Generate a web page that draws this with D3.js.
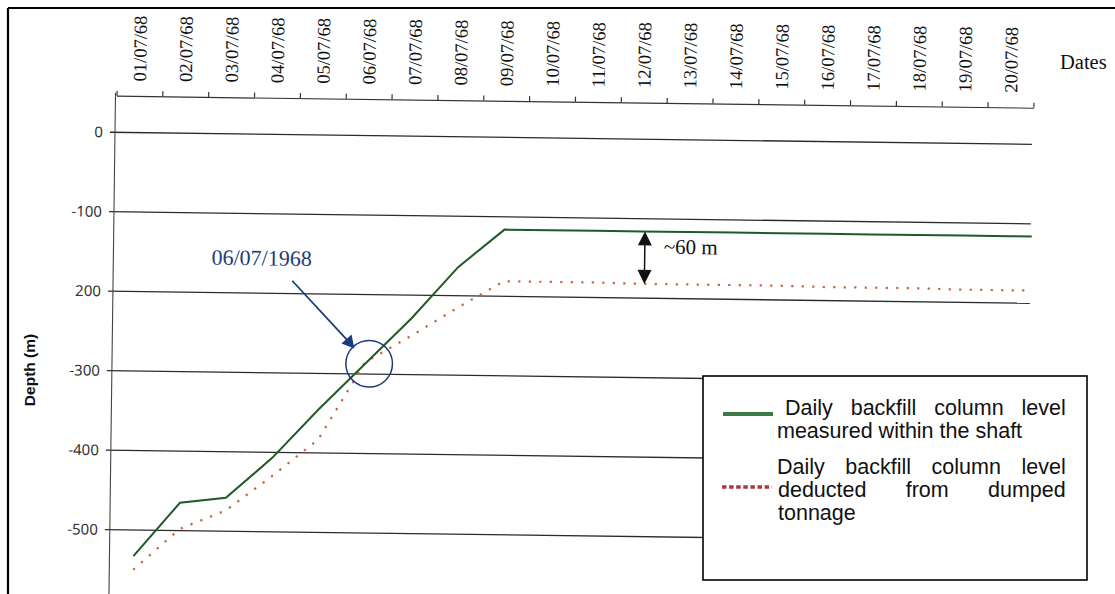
<!DOCTYPE html>
<html lang="en">
<head>
<meta charset="utf-8">
<script src="https://d3js.org/d3.v7.min.js"></script>
<title>Daily backfill column level</title>
<style>
  body { margin: 0; background: #fff; }
</style>
</head>
<body>
<script>

// data (depth in m)
var dates = ["01/07/68", "02/07/68", "03/07/68", "04/07/68", "05/07/68", "06/07/68", "07/07/68",
             "08/07/68", "09/07/68", "10/07/68", "11/07/68", "12/07/68", "13/07/68", "14/07/68",
             "15/07/68", "16/07/68", "17/07/68", "18/07/68", "19/07/68", "20/07/68"];
var measured = [-533, -465, -458, -407, -345, -287, -229, -164, -116, -116,
                -116, -116, -116, -116, -116, -116, -116, -116, -116, -116];
var deducted = [-550, -498, -474, -430, -383, -285, -251, -215, -181, -181,
                -181, -182, -182, -182, -182, -183, -183, -183, -184, -184];
var depthTicks = [0, -100, -200, -300, -400, -500];
var depthTickLabels = ["0", "-100", "200", "-300", "-400", "-500"];
var legendRows = [
  ["Daily backfill column level", "measured within the shaft"],
  ["Daily backfill column level", "deducted from dumped", "tonnage"]
];

var width = 1115, height = 594;

var svg = d3.select("body").append("svg")
  .attr("width", width)
  .attr("height", height);

// frame
svg.append("line").attr("x1", 8).attr("y1", 8).attr("x2", width).attr("y2", 8)
  .attr("stroke", "#000").attr("stroke-width", 2.2);
svg.append("line").attr("x1", 8).attr("y1", 8).attr("x2", 8).attr("y2", height)
  .attr("stroke", "#000").attr("stroke-width", 2.2);

// the scanned graph is a little tilted
var plot = svg.append("g").attr("transform", "rotate(0.75,115,132.3)");

var x = d3.scaleBand().domain(dates).range([116, 1033]);
var xTick = d3.scaleLinear().domain([0, dates.length]).range(x.range());
var y = d3.scaleLinear().domain([0, -500]).range([132.3, 529.7]);
var axisY = 95.7;
var cx = function(d) { return x(d) + x.bandwidth() / 2; };

// grid lines
plot.selectAll(".grid")
  .data(depthTicks)
  .enter().append("line")
  .attr("x1", 110)
  .attr("x2", 1032)
  .attr("y1", function(d) { return y(d); })
  .attr("y2", function(d) { return y(d); })
  .attr("stroke", "#2b2b2b")
  .attr("stroke-width", 1.3);

// depth axis
plot.append("line")
  .attr("x1", 115).attr("x2", 115)
  .attr("y1", axisY - 3).attr("y2", 615)
  .attr("stroke", "#444").attr("stroke-width", 1.1);

plot.selectAll(".ylab")
  .data(depthTicks)
  .enter().append("text")
  .attr("x", 103)
  .attr("y", function(d) { return y(d); })
  .attr("dy", "0.35em")
  .attr("text-anchor", "end")
  .style("font-family", "'Noto Sans', sans-serif")
  .style("font-size", "15px")
  .style("fill", "#333")
  .text(function(d, i) { return depthTickLabels[i]; });

// date axis
var xAxis = plot.append("g")
  .attr("transform", "translate(0," + axisY + ")")
  .call(d3.axisTop(xTick)
    .tickValues(d3.range(dates.length + 1))
    .tickFormat("")
    .tickSize(5)
    .tickSizeOuter(0));
xAxis.selectAll("path, line").attr("stroke", "#333").attr("stroke-width", 1.2);

plot.selectAll(".xlab")
  .data(dates)
  .enter().append("text")
  .attr("transform", function(d) { return "translate(" + cx(d) + ",81) rotate(-90)"; })
  .attr("dy", "0.35em")
  .style("font-family", "'Liberation Serif', serif")
  .style("font-size", "18.5px")
  .style("fill", "#111")
  .text(function(d) { return d; });

// series
function points(vals) {
  var p = vals.map(function(v, i) { return [cx(dates[i]), y(v)]; });
  p.push([x.range()[1], y(vals[vals.length - 1])]);
  return p;
}
var line = d3.line();

plot.append("path")
  .attr("d", line(points(deducted)))
  .attr("fill", "none")
  .attr("stroke", "#c4643c")
  .attr("stroke-width", 2.2)
  .attr("stroke-dasharray", "2.2,8.3");

plot.append("path")
  .attr("d", line(points(measured)))
  .attr("fill", "none")
  .attr("stroke", "#1f5a28")
  .attr("stroke-width", 2);

// ~60 m gap annotation
var gx = cx(dates[11]) + 3;
var gTop = y(measured[11]), gBot = y(deducted[11]);
plot.append("line")
  .attr("x1", gx).attr("x2", gx)
  .attr("y1", gTop + 10).attr("y2", gBot - 10)
  .attr("stroke", "#111").attr("stroke-width", 1.5);
plot.append("path")
  .attr("d", "M" + gx + "," + gTop + "l-7,14h14z")
  .attr("fill", "#111");
plot.append("path")
  .attr("d", "M" + gx + "," + gBot + "l-7,-14h14z")
  .attr("fill", "#111");
plot.append("text")
  .attr("x", gx + 19)
  .attr("y", gTop + 22)
  .style("font-family", "'Liberation Serif', serif")
  .style("font-size", "21px")
  .style("fill", "#111")
  .text("~60 m");

// circled crossing on 06/07
var ccx = cx(dates[5]) + 4, ccy = y(measured[5]);
var blue = "#1d3a80";
plot.append("circle")
  .attr("cx", ccx).attr("cy", ccy).attr("r", 23.3)
  .attr("fill", "none")
  .attr("stroke", blue)
  .attr("stroke-width", 1.5);
plot.append("line")
  .attr("x1", ccx - 78).attr("y1", ccy - 82)
  .attr("x2", ccx - 22).attr("y2", ccy - 23)
  .attr("stroke", blue).attr("stroke-width", 1.8);
plot.append("path")
  .attr("d", "M" + (ccx - 15) + "," + (ccy - 15) + "l-3,-14l-10,9z")
  .attr("fill", blue);
plot.append("text")
  .attr("x", ccx - 159)
  .attr("y", ccy - 97)
  .style("font-family", "'Liberation Serif', serif")
  .style("font-size", "22px")
  .style("fill", "#213c78")
  .text("06/07/1968");

// axis titles
svg.append("text")
  .attr("x", 1060)
  .attr("y", 69)
  .style("font-family", "'Liberation Serif', serif")
  .style("font-size", "20.5px")
  .style("fill", "#111")
  .text("Dates");

svg.append("text")
  .attr("transform", "translate(30,370) rotate(-90)")
  .attr("dy", "0.35em")
  .attr("text-anchor", "middle")
  .style("font-family", "'Liberation Sans', Arial, sans-serif")
  .style("font-weight", "bold")
  .style("font-size", "15.5px")
  .style("fill", "#111")
  .text("Depth (m)");

// legend
var legend = svg.append("g")
  .style("font-family", "'Liberation Sans', Arial, sans-serif")
  .style("font-size", "21.5px")
  .style("fill", "#111");

legend.append("rect")
  .attr("x", 703).attr("y", 376)
  .attr("width", 384).attr("height", 204)
  .attr("fill", "#fff")
  .attr("stroke", "#000")
  .attr("stroke-width", 1.6);

legend.append("line")
  .attr("x1", 723).attr("x2", 773)
  .attr("y1", 414).attr("y2", 414)
  .attr("stroke", "#3b7a45").attr("stroke-width", 4);
legend.append("line")
  .attr("x1", 722).attr("x2", 772)
  .attr("y1", 487).attr("y2", 487)
  .attr("stroke", "#a83a3a").attr("stroke-width", 3.5)
  .attr("stroke-dasharray", "4.5,2.6");

var textRight = 1065.7;
var rowLeft = [[785, 777], [777, 778, 778]];
var rowBase = [[415, 437.5], [474, 497, 519.5]];

// justified text: spread the words of every row but the last one
function writeRow(words, x0, yb, justify) {
  var t = legend.selectAll(null)
    .data(words)
    .enter().append("text")
    .attr("y", yb)
    .text(function(d) { return d; });
  var w = t.nodes().map(function(n) { return n.getComputedTextLength(); });
  var space = 6;
  if (justify && words.length > 1) {
    space = (textRight - x0 - d3.sum(w)) / (words.length - 1);
  }
  var pos = x0;
  t.attr("x", function(d, i) { var p = pos; pos += w[i] + space; return p; });
}

legendRows.forEach(function(rows, k) {
  rows.forEach(function(r, j) {
    writeRow(r.split(" "), rowLeft[k][j], rowBase[k][j], j < rows.length - 1);
  });
});

</script>
</body>
</html>
